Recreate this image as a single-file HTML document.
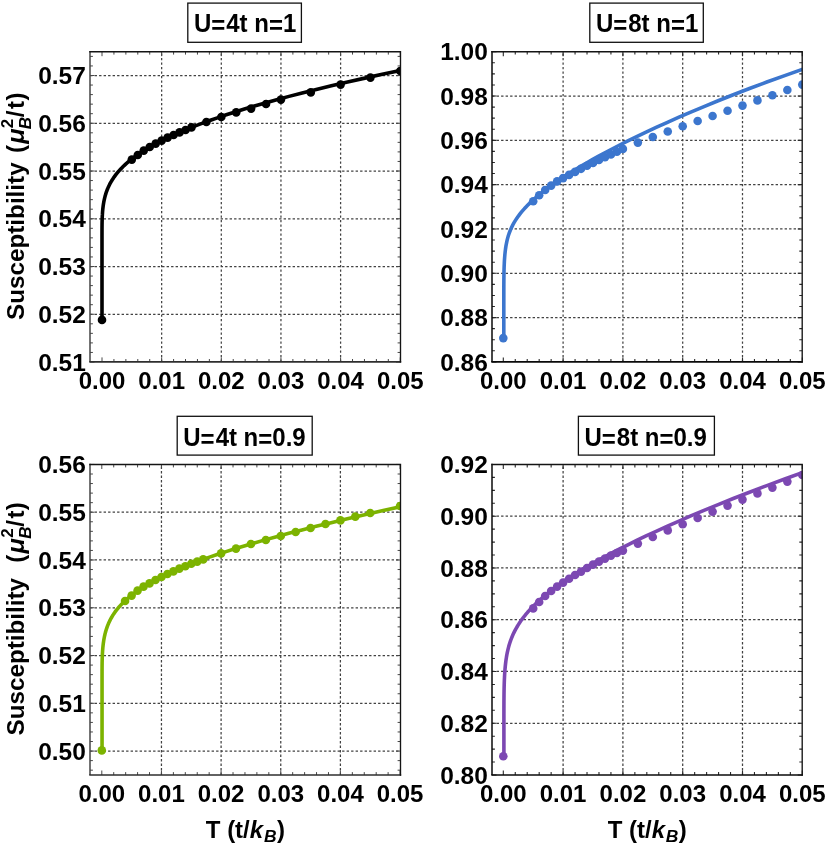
<!DOCTYPE html>
<html><head><meta charset="utf-8"><title>Susceptibility</title>
<style>html,body{margin:0;padding:0;background:#fff;}svg{display:block;position:absolute;left:0;top:0;will-change:transform;}text{font-family:"Liberation Sans",sans-serif;font-weight:bold;fill:#000;}</style></head><body>
<svg width="830" height="852" viewBox="0 0 830 852">
<rect x="0" y="0" width="830" height="852" fill="#fff"/>
<g id="P1">
<clipPath id="clipP1"><rect x="90.0" y="51.7" width="310.5" height="310.2"/></clipPath>
<path d="M161.65 361.90V51.70M221.30 361.90V51.70M280.95 361.90V51.70M340.60 361.90V51.70M90.00 314.25H400.50M90.00 266.50H400.50M90.00 218.75H400.50M90.00 171.00H400.50M90.00 123.25H400.50M90.00 75.50H400.50" fill="none" stroke="#424242" stroke-width="1.25" stroke-dasharray="2.4 2.1" stroke-dashoffset="-0.1"/>
<path d="M113.93 361.90v-2.9M113.93 51.70v2.9M125.86 361.90v-2.9M125.86 51.70v2.9M137.79 361.90v-2.9M137.79 51.70v2.9M149.72 361.90v-2.9M149.72 51.70v2.9M173.58 361.90v-2.9M173.58 51.70v2.9M185.51 361.90v-2.9M185.51 51.70v2.9M197.44 361.90v-2.9M197.44 51.70v2.9M209.37 361.90v-2.9M209.37 51.70v2.9M233.23 361.90v-2.9M233.23 51.70v2.9M245.16 361.90v-2.9M245.16 51.70v2.9M257.09 361.90v-2.9M257.09 51.70v2.9M269.02 361.90v-2.9M269.02 51.70v2.9M292.88 361.90v-2.9M292.88 51.70v2.9M304.81 361.90v-2.9M304.81 51.70v2.9M316.74 361.90v-2.9M316.74 51.70v2.9M328.67 361.90v-2.9M328.67 51.70v2.9M352.53 361.90v-2.9M352.53 51.70v2.9M364.46 361.90v-2.9M364.46 51.70v2.9M376.39 361.90v-2.9M376.39 51.70v2.9M388.32 361.90v-2.9M388.32 51.70v2.9M90.00 352.45h2.9M400.50 352.45h-2.9M90.00 342.90h2.9M400.50 342.90h-2.9M90.00 333.35h2.9M400.50 333.35h-2.9M90.00 323.80h2.9M400.50 323.80h-2.9M90.00 304.70h2.9M400.50 304.70h-2.9M90.00 295.15h2.9M400.50 295.15h-2.9M90.00 285.60h2.9M400.50 285.60h-2.9M90.00 276.05h2.9M400.50 276.05h-2.9M90.00 256.95h2.9M400.50 256.95h-2.9M90.00 247.40h2.9M400.50 247.40h-2.9M90.00 237.85h2.9M400.50 237.85h-2.9M90.00 228.30h2.9M400.50 228.30h-2.9M90.00 209.20h2.9M400.50 209.20h-2.9M90.00 199.65h2.9M400.50 199.65h-2.9M90.00 190.10h2.9M400.50 190.10h-2.9M90.00 180.55h2.9M400.50 180.55h-2.9M90.00 161.45h2.9M400.50 161.45h-2.9M90.00 151.90h2.9M400.50 151.90h-2.9M90.00 142.35h2.9M400.50 142.35h-2.9M90.00 132.80h2.9M400.50 132.80h-2.9M90.00 113.70h2.9M400.50 113.70h-2.9M90.00 104.15h2.9M400.50 104.15h-2.9M90.00 94.60h2.9M400.50 94.60h-2.9M90.00 85.05h2.9M400.50 85.05h-2.9M90.00 65.95h2.9M400.50 65.95h-2.9M90.00 56.40h2.9M400.50 56.40h-2.9" fill="none" stroke="#484848" stroke-width="1.0"/>
<path d="M102.00 361.90v-4.5M102.00 51.70v4.5M161.65 361.90v-4.5M161.65 51.70v4.5M221.30 361.90v-4.5M221.30 51.70v4.5M280.95 361.90v-4.5M280.95 51.70v4.5M340.60 361.90v-4.5M340.60 51.70v4.5M400.25 361.90v-4.5M400.25 51.70v4.5M90.00 362.00h4.5M400.50 362.00h-4.5M90.00 314.25h4.5M400.50 314.25h-4.5M90.00 266.50h4.5M400.50 266.50h-4.5M90.00 218.75h4.5M400.50 218.75h-4.5M90.00 171.00h4.5M400.50 171.00h-4.5M90.00 123.25h4.5M400.50 123.25h-4.5M90.00 75.50h4.5M400.50 75.50h-4.5" fill="none" stroke="#484848" stroke-width="1.0"/>
<g clip-path="url(#clipP1)">
<path d="M102.00 319.90 L102.00 237.01 L102.01 230.26 L102.01 230.12 L102.01 229.98 L102.01 229.84 L102.01 229.69 L102.01 229.55 L102.01 229.39 L102.01 229.24 L102.01 229.08 L102.01 228.92 L102.01 228.76 L102.01 228.59 L102.01 228.42 L102.01 228.25 L102.02 228.07 L102.02 227.89 L102.02 227.71 L102.02 227.52 L102.02 227.33 L102.02 227.14 L102.02 226.94 L102.02 226.74 L102.03 226.53 L102.03 226.32 L102.03 226.11 L102.03 225.89 L102.04 225.66 L102.04 225.44 L102.04 225.21 L102.04 224.97 L102.05 224.73 L102.05 224.48 L102.05 224.23 L102.06 223.98 L102.06 223.72 L102.06 223.45 L102.07 223.18 L102.07 222.91 L102.08 222.63 L102.08 222.34 L102.09 222.05 L102.10 221.75 L102.10 221.45 L102.11 221.14 L102.12 220.83 L102.13 220.51 L102.14 220.18 L102.15 219.85 L102.16 219.51 L102.17 219.16 L102.18 218.81 L102.19 218.45 L102.21 218.08 L102.22 217.71 L102.24 217.33 L102.25 216.94 L102.27 216.55 L102.29 216.15 L102.31 215.74 L102.33 215.32 L102.36 214.89 L102.38 214.46 L102.41 214.02 L102.44 213.57 L102.47 213.11 L102.50 212.64 L102.53 212.16 L102.57 211.68 L102.61 211.19 L102.66 210.68 L102.70 210.17 L102.75 209.65 L102.80 209.11 L102.86 208.57 L102.92 208.02 L102.99 207.46 L103.06 206.88 L103.13 206.30 L103.21 205.70 L103.30 205.09 L103.39 204.47 L103.48 203.84 L103.59 203.20 L103.70 202.55 L103.82 201.88 L103.95 201.20 L104.09 200.51 L104.23 199.80 L104.39 199.08 L104.56 198.35 L104.74 197.60 L104.93 196.84 L105.14 196.07 L105.36 195.27 L105.60 194.47 L105.85 193.64 L106.12 192.81 L106.41 191.95 L106.73 191.08 L107.06 190.19 L107.42 189.28 L107.80 188.36 L108.21 187.41 L108.64 186.45 L109.11 185.47 L109.61 184.46 L110.15 183.44 L110.72 182.40 L111.34 181.33 L112.00 180.24 L112.70 179.13 L113.46 177.99 L114.26 176.83 L115.13 175.65 L116.05 174.43 L117.04 173.20 L118.10 171.93 L119.24 170.63 L120.45 169.31 L121.76 167.96 L123.15 166.57 L124.64 165.15 L126.23 163.70 L127.94 162.22 L129.77 160.69 L131.73 159.13 L133.82 157.54 L136.07 155.90 L138.47 154.22 L141.04 152.50 L143.79 150.73 L146.74 148.92 L149.89 147.06 L153.26 145.15 L156.88 143.19 L160.75 141.18 L164.89 139.11 L169.32 136.98 L174.06 134.79 L179.14 132.54 L184.58 130.23 L190.40 127.85 L196.63 125.39 L203.30 122.87 L210.44 120.27 L218.08 117.59 L226.27 114.83 L235.03 111.99 L244.40 109.05 L254.44 106.03 L265.18 102.91 L276.69 99.70 L289.00 96.38 L302.18 92.95 L316.29 89.42 L331.39 85.77 L347.56 82.01 L364.87 78.12 L383.40 74.11 L403.23 69.97" fill="none" stroke="#000000" stroke-width="3.6" stroke-linejoin="round" stroke-linecap="butt"/>
<circle cx="102.00" cy="319.90" r="4.3" fill="#000000"/>
<circle cx="131.82" cy="159.60" r="4.3" fill="#000000"/>
<circle cx="137.79" cy="155.00" r="4.3" fill="#000000"/>
<circle cx="143.75" cy="150.60" r="4.3" fill="#000000"/>
<circle cx="149.72" cy="147.00" r="4.3" fill="#000000"/>
<circle cx="155.69" cy="143.60" r="4.3" fill="#000000"/>
<circle cx="161.65" cy="140.60" r="4.3" fill="#000000"/>
<circle cx="167.62" cy="137.60" r="4.3" fill="#000000"/>
<circle cx="173.58" cy="135.00" r="4.3" fill="#000000"/>
<circle cx="179.55" cy="132.40" r="4.3" fill="#000000"/>
<circle cx="185.51" cy="130.00" r="4.3" fill="#000000"/>
<circle cx="191.47" cy="127.40" r="4.3" fill="#000000"/>
<circle cx="206.39" cy="122.00" r="4.3" fill="#000000"/>
<circle cx="221.30" cy="117.00" r="4.3" fill="#000000"/>
<circle cx="236.21" cy="112.40" r="4.3" fill="#000000"/>
<circle cx="251.12" cy="108.60" r="4.3" fill="#000000"/>
<circle cx="266.04" cy="104.00" r="4.3" fill="#000000"/>
<circle cx="280.95" cy="99.60" r="4.3" fill="#000000"/>
<circle cx="310.77" cy="92.40" r="4.3" fill="#000000"/>
<circle cx="340.60" cy="84.60" r="4.3" fill="#000000"/>
<circle cx="370.43" cy="77.60" r="4.3" fill="#000000"/>
<circle cx="400.25" cy="71.00" r="4.3" fill="#000000"/>
</g>
<path d="M90.0 51.00V361.90" fill="none" stroke="#444444" stroke-width="1.5"/>
<path d="M89.25 361.90H401.20" fill="none" stroke="#2e2e2e" stroke-width="1.6"/>
<path d="M89.30 51.7H400.50V362.60" fill="none" stroke="#141414" stroke-width="1.35"/>
<text transform="translate(85.80 370.60) scale(1.02 1)" font-size="24" text-anchor="end">0.51</text>
<text transform="translate(85.80 322.85) scale(1.02 1)" font-size="24" text-anchor="end">0.52</text>
<text transform="translate(85.80 275.10) scale(1.02 1)" font-size="24" text-anchor="end">0.53</text>
<text transform="translate(85.80 227.35) scale(1.02 1)" font-size="24" text-anchor="end">0.54</text>
<text transform="translate(85.80 179.60) scale(1.02 1)" font-size="24" text-anchor="end">0.55</text>
<text transform="translate(85.80 131.85) scale(1.02 1)" font-size="24" text-anchor="end">0.56</text>
<text transform="translate(85.80 84.10) scale(1.02 1)" font-size="24" text-anchor="end">0.57</text>
<text x="102.00" y="388.90" font-size="24" text-anchor="middle">0.00</text>
<text x="161.65" y="388.90" font-size="24" text-anchor="middle">0.01</text>
<text x="221.30" y="388.90" font-size="24" text-anchor="middle">0.02</text>
<text x="280.95" y="388.90" font-size="24" text-anchor="middle">0.03</text>
<text x="340.60" y="388.90" font-size="24" text-anchor="middle">0.04</text>
<text x="400.25" y="388.90" font-size="24" text-anchor="middle">0.05</text>
<rect x="187.8" y="3.1" width="113.60" height="39.20" fill="#fff" stroke="#111" stroke-width="1.3"/>
<text transform="translate(193.90 32.40) scale(1 1.04)" font-size="24">U<tspan dy="1.9">=</tspan><tspan dy="-1.9" dx="1">4t n</tspan><tspan dy="1.9">=</tspan><tspan dy="-1.9">1</tspan></text>
<g transform="translate(23.6 206.80) rotate(-90)" font-size="24">
<text transform="translate(-113.10 0.00) scale(1.01 1)" font-size="24">Susceptibility</text>
<text transform="translate(53.80 0.00) scale(1 1)" font-size="24">(</text>
<text transform="translate(63.00 0.00) scale(1.06 1)" font-size="24" font-style="italic">μ</text>
<text transform="translate(78.60 -10.90) scale(1 1)" font-size="17">2</text>
<text transform="translate(77.60 7.30) scale(1 1)" font-size="17" font-style="italic">B</text>
<text transform="translate(89.60 0.00) scale(1 1)" font-size="24">/</text>
<text transform="translate(97.90 0.00) scale(1 1)" font-size="24">t</text>
<text transform="translate(106.30 0.00) scale(1 1)" font-size="24">)</text>
</g>
</g>
<g id="P2">
<clipPath id="clipP2"><rect x="492.0" y="51.7" width="310.20000000000005" height="310.2"/></clipPath>
<path d="M563.10 361.90V51.70M622.90 361.90V51.70M682.70 361.90V51.70M742.50 361.90V51.70M492.00 317.58H802.20M492.00 273.27H802.20M492.00 228.96H802.20M492.00 184.64H802.20M492.00 140.33H802.20M492.00 96.01H802.20" fill="none" stroke="#424242" stroke-width="1.25" stroke-dasharray="2.4 2.1" stroke-dashoffset="-0.1"/>
<path d="M515.26 361.90v-2.9M515.26 51.70v2.9M527.22 361.90v-2.9M527.22 51.70v2.9M539.18 361.90v-2.9M539.18 51.70v2.9M551.14 361.90v-2.9M551.14 51.70v2.9M575.06 361.90v-2.9M575.06 51.70v2.9M587.02 361.90v-2.9M587.02 51.70v2.9M598.98 361.90v-2.9M598.98 51.70v2.9M610.94 361.90v-2.9M610.94 51.70v2.9M634.86 361.90v-2.9M634.86 51.70v2.9M646.82 361.90v-2.9M646.82 51.70v2.9M658.78 361.90v-2.9M658.78 51.70v2.9M670.74 361.90v-2.9M670.74 51.70v2.9M694.66 361.90v-2.9M694.66 51.70v2.9M706.62 361.90v-2.9M706.62 51.70v2.9M718.58 361.90v-2.9M718.58 51.70v2.9M730.54 361.90v-2.9M730.54 51.70v2.9M754.46 361.90v-2.9M754.46 51.70v2.9M766.42 361.90v-2.9M766.42 51.70v2.9M778.38 361.90v-2.9M778.38 51.70v2.9M790.34 361.90v-2.9M790.34 51.70v2.9M492.00 350.82h2.9M802.20 350.82h-2.9M492.00 339.74h2.9M802.20 339.74h-2.9M492.00 328.66h2.9M802.20 328.66h-2.9M492.00 306.51h2.9M802.20 306.51h-2.9M492.00 295.43h2.9M802.20 295.43h-2.9M492.00 284.35h2.9M802.20 284.35h-2.9M492.00 262.19h2.9M802.20 262.19h-2.9M492.00 251.11h2.9M802.20 251.11h-2.9M492.00 240.03h2.9M802.20 240.03h-2.9M492.00 217.88h2.9M802.20 217.88h-2.9M492.00 206.80h2.9M802.20 206.80h-2.9M492.00 195.72h2.9M802.20 195.72h-2.9M492.00 173.56h2.9M802.20 173.56h-2.9M492.00 162.49h2.9M802.20 162.49h-2.9M492.00 151.41h2.9M802.20 151.41h-2.9M492.00 129.25h2.9M802.20 129.25h-2.9M492.00 118.17h2.9M802.20 118.17h-2.9M492.00 107.09h2.9M802.20 107.09h-2.9M492.00 84.94h2.9M802.20 84.94h-2.9M492.00 73.86h2.9M802.20 73.86h-2.9M492.00 62.78h2.9M802.20 62.78h-2.9" fill="none" stroke="#2a2a2a" stroke-width="1.1"/>
<path d="M503.30 361.90v-4.5M503.30 51.70v4.5M563.10 361.90v-4.5M563.10 51.70v4.5M622.90 361.90v-4.5M622.90 51.70v4.5M682.70 361.90v-4.5M682.70 51.70v4.5M742.50 361.90v-4.5M742.50 51.70v4.5M802.30 361.90v-4.5M802.30 51.70v4.5M492.00 361.90h4.5M802.20 361.90h-4.5M492.00 317.58h4.5M802.20 317.58h-4.5M492.00 273.27h4.5M802.20 273.27h-4.5M492.00 228.96h4.5M802.20 228.96h-4.5M492.00 184.64h4.5M802.20 184.64h-4.5M492.00 140.33h4.5M802.20 140.33h-4.5M492.00 96.01h4.5M802.20 96.01h-4.5M492.00 51.70h4.5M802.20 51.70h-4.5" fill="none" stroke="#2a2a2a" stroke-width="1.1"/>
<g clip-path="url(#clipP2)">
<path d="M503.80 338.10 L503.80 306.72 L503.81 293.65 L503.81 293.40 L503.81 293.14 L503.81 292.87 L503.81 292.61 L503.81 292.33 L503.81 292.06 L503.81 291.78 L503.81 291.49 L503.81 291.20 L503.81 290.90 L503.81 290.60 L503.81 290.29 L503.81 289.98 L503.81 289.66 L503.81 289.33 L503.82 289.00 L503.82 288.67 L503.82 288.33 L503.82 287.98 L503.82 287.63 L503.82 287.27 L503.82 286.90 L503.82 286.53 L503.83 286.15 L503.83 285.77 L503.83 285.38 L503.83 284.98 L503.83 284.58 L503.84 284.17 L503.84 283.76 L503.84 283.33 L503.85 282.90 L503.85 282.47 L503.85 282.02 L503.86 281.57 L503.86 281.12 L503.86 280.65 L503.87 280.18 L503.87 279.70 L503.88 279.21 L503.88 278.72 L503.89 278.22 L503.90 277.71 L503.90 277.19 L503.91 276.67 L503.92 276.14 L503.93 275.60 L503.94 275.05 L503.95 274.49 L503.96 273.93 L503.97 273.36 L503.98 272.78 L503.99 272.19 L504.00 271.59 L504.02 270.99 L504.03 270.37 L504.05 269.75 L504.07 269.12 L504.09 268.49 L504.11 267.84 L504.13 267.18 L504.15 266.52 L504.18 265.85 L504.21 265.17 L504.24 264.48 L504.27 263.78 L504.30 263.07 L504.34 262.35 L504.37 261.63 L504.41 260.90 L504.46 260.15 L504.51 259.40 L504.56 258.64 L504.61 257.87 L504.67 257.09 L504.73 256.30 L504.80 255.50 L504.87 254.69 L504.95 253.88 L505.03 253.05 L505.12 252.21 L505.21 251.37 L505.32 250.51 L505.43 249.64 L505.54 248.77 L505.67 247.88 L505.81 246.98 L505.95 246.08 L506.11 245.16 L506.28 244.23 L506.46 243.29 L506.66 242.33 L506.87 241.37 L507.09 240.39 L507.33 239.40 L507.59 238.40 L507.87 237.38 L508.17 236.35 L508.49 235.31 L508.84 234.25 L509.21 233.18 L509.61 232.09 L510.04 230.98 L510.50 229.86 L510.99 228.72 L511.52 227.56 L512.09 226.38 L512.70 225.17 L513.35 223.95 L514.05 222.70 L514.81 221.43 L515.61 220.13 L516.47 218.81 L517.40 217.45 L518.39 216.06 L519.45 214.65 L520.59 213.19 L521.80 211.70 L523.11 210.17 L524.50 208.60 L526.00 206.99 L527.60 205.33 L529.31 203.62 L531.14 201.85 L533.10 200.03 L535.20 198.16 L537.45 196.21 L539.86 194.21 L542.44 192.13 L545.19 189.97 L548.15 187.74 L551.31 185.42 L554.69 183.01 L558.32 180.51 L562.19 177.91 L566.34 175.20 L570.79 172.38 L575.54 169.44 L580.64 166.38 L586.09 163.19 L591.92 159.86 L598.17 156.38 L604.86 152.76 L612.01 148.97 L619.68 145.02 L627.88 140.90 L636.66 136.59 L646.06 132.10 L656.12 127.41 L666.89 122.52 L678.43 117.42 L690.77 112.10 L703.98 106.56 L718.13 100.79 L733.27 94.78 L749.48 88.54 L766.83 82.06 L785.41 75.34 L805.29 68.37" fill="none" stroke="#3c76ce" stroke-width="3.6" stroke-linejoin="round" stroke-linecap="butt"/>
<circle cx="503.30" cy="338.10" r="4.3" fill="#3c76ce"/>
<circle cx="533.20" cy="201.30" r="4.3" fill="#3c76ce"/>
<circle cx="539.18" cy="195.20" r="4.3" fill="#3c76ce"/>
<circle cx="545.16" cy="190.00" r="4.3" fill="#3c76ce"/>
<circle cx="551.14" cy="185.60" r="4.3" fill="#3c76ce"/>
<circle cx="557.12" cy="181.40" r="4.3" fill="#3c76ce"/>
<circle cx="563.10" cy="178.10" r="4.3" fill="#3c76ce"/>
<circle cx="569.08" cy="174.90" r="4.3" fill="#3c76ce"/>
<circle cx="575.06" cy="171.90" r="4.3" fill="#3c76ce"/>
<circle cx="581.04" cy="168.83" r="4.3" fill="#3c76ce"/>
<circle cx="587.02" cy="165.82" r="4.3" fill="#3c76ce"/>
<circle cx="593.00" cy="162.88" r="4.3" fill="#3c76ce"/>
<circle cx="598.98" cy="160.00" r="4.3" fill="#3c76ce"/>
<circle cx="604.96" cy="157.18" r="4.3" fill="#3c76ce"/>
<circle cx="610.94" cy="154.43" r="4.3" fill="#3c76ce"/>
<circle cx="616.92" cy="151.73" r="4.3" fill="#3c76ce"/>
<circle cx="622.90" cy="148.90" r="4.3" fill="#3c76ce"/>
<circle cx="637.85" cy="142.60" r="4.3" fill="#3c76ce"/>
<circle cx="652.80" cy="137.00" r="4.3" fill="#3c76ce"/>
<circle cx="667.75" cy="131.50" r="4.3" fill="#3c76ce"/>
<circle cx="682.70" cy="126.30" r="4.3" fill="#3c76ce"/>
<circle cx="697.65" cy="121.00" r="4.3" fill="#3c76ce"/>
<circle cx="712.60" cy="116.00" r="4.3" fill="#3c76ce"/>
<circle cx="727.55" cy="110.80" r="4.3" fill="#3c76ce"/>
<circle cx="742.50" cy="105.60" r="4.3" fill="#3c76ce"/>
<circle cx="757.45" cy="100.40" r="4.3" fill="#3c76ce"/>
<circle cx="772.40" cy="95.20" r="4.3" fill="#3c76ce"/>
<circle cx="787.35" cy="90.00" r="4.3" fill="#3c76ce"/>
<circle cx="802.30" cy="84.60" r="4.3" fill="#3c76ce"/>
</g>
<path d="M492.0 51.00V361.90" fill="none" stroke="#0a0a0a" stroke-width="1.5"/>
<path d="M491.25 361.90H802.90" fill="none" stroke="#0a0a0a" stroke-width="1.6"/>
<path d="M491.30 51.7H802.20V362.60" fill="none" stroke="#141414" stroke-width="1.35"/>
<text transform="translate(487.80 370.50) scale(1.02 1)" font-size="24" text-anchor="end">0.86</text>
<text transform="translate(487.80 326.18) scale(1.02 1)" font-size="24" text-anchor="end">0.88</text>
<text transform="translate(487.80 281.87) scale(1.02 1)" font-size="24" text-anchor="end">0.90</text>
<text transform="translate(487.80 237.56) scale(1.02 1)" font-size="24" text-anchor="end">0.92</text>
<text transform="translate(487.80 193.24) scale(1.02 1)" font-size="24" text-anchor="end">0.94</text>
<text transform="translate(487.80 148.93) scale(1.02 1)" font-size="24" text-anchor="end">0.96</text>
<text transform="translate(487.80 104.61) scale(1.02 1)" font-size="24" text-anchor="end">0.98</text>
<text transform="translate(487.80 60.30) scale(1.02 1)" font-size="24" text-anchor="end">1.00</text>
<text x="503.30" y="388.90" font-size="24" text-anchor="middle">0.00</text>
<text x="563.10" y="388.90" font-size="24" text-anchor="middle">0.01</text>
<text x="622.90" y="388.90" font-size="24" text-anchor="middle">0.02</text>
<text x="682.70" y="388.90" font-size="24" text-anchor="middle">0.03</text>
<text x="742.50" y="388.90" font-size="24" text-anchor="middle">0.04</text>
<text x="802.30" y="388.90" font-size="24" text-anchor="middle">0.05</text>
<rect x="589.8" y="3.1" width="113.50" height="39.20" fill="#fff" stroke="#111" stroke-width="1.3"/>
<text transform="translate(595.90 32.40) scale(1 1.04)" font-size="24">U<tspan dy="1.9">=</tspan><tspan dy="-1.9" dx="1">8t n</tspan><tspan dy="1.9">=</tspan><tspan dy="-1.9">1</tspan></text>
</g>
<g id="P3">
<clipPath id="clipP3"><rect x="90.0" y="464.5" width="310.5" height="310.5"/></clipPath>
<path d="M161.45 775.00V464.50M221.10 775.00V464.50M280.75 775.00V464.50M340.40 775.00V464.50M90.00 751.07H400.50M90.00 703.30H400.50M90.00 655.53H400.50M90.00 607.76H400.50M90.00 559.99H400.50M90.00 512.22H400.50" fill="none" stroke="#424242" stroke-width="1.25" stroke-dasharray="2.4 2.1" stroke-dashoffset="-0.1"/>
<path d="M113.73 775.00v-2.9M113.73 464.50v2.9M125.66 775.00v-2.9M125.66 464.50v2.9M137.59 775.00v-2.9M137.59 464.50v2.9M149.52 775.00v-2.9M149.52 464.50v2.9M173.38 775.00v-2.9M173.38 464.50v2.9M185.31 775.00v-2.9M185.31 464.50v2.9M197.24 775.00v-2.9M197.24 464.50v2.9M209.17 775.00v-2.9M209.17 464.50v2.9M233.03 775.00v-2.9M233.03 464.50v2.9M244.96 775.00v-2.9M244.96 464.50v2.9M256.89 775.00v-2.9M256.89 464.50v2.9M268.82 775.00v-2.9M268.82 464.50v2.9M292.68 775.00v-2.9M292.68 464.50v2.9M304.61 775.00v-2.9M304.61 464.50v2.9M316.54 775.00v-2.9M316.54 464.50v2.9M328.47 775.00v-2.9M328.47 464.50v2.9M352.33 775.00v-2.9M352.33 464.50v2.9M364.26 775.00v-2.9M364.26 464.50v2.9M376.19 775.00v-2.9M376.19 464.50v2.9M388.12 775.00v-2.9M388.12 464.50v2.9M90.00 770.18h2.9M400.50 770.18h-2.9M90.00 760.62h2.9M400.50 760.62h-2.9M90.00 741.52h2.9M400.50 741.52h-2.9M90.00 731.96h2.9M400.50 731.96h-2.9M90.00 722.41h2.9M400.50 722.41h-2.9M90.00 712.85h2.9M400.50 712.85h-2.9M90.00 693.75h2.9M400.50 693.75h-2.9M90.00 684.19h2.9M400.50 684.19h-2.9M90.00 674.64h2.9M400.50 674.64h-2.9M90.00 665.08h2.9M400.50 665.08h-2.9M90.00 645.98h2.9M400.50 645.98h-2.9M90.00 636.42h2.9M400.50 636.42h-2.9M90.00 626.87h2.9M400.50 626.87h-2.9M90.00 617.31h2.9M400.50 617.31h-2.9M90.00 598.21h2.9M400.50 598.21h-2.9M90.00 588.65h2.9M400.50 588.65h-2.9M90.00 579.10h2.9M400.50 579.10h-2.9M90.00 569.54h2.9M400.50 569.54h-2.9M90.00 550.44h2.9M400.50 550.44h-2.9M90.00 540.88h2.9M400.50 540.88h-2.9M90.00 531.33h2.9M400.50 531.33h-2.9M90.00 521.77h2.9M400.50 521.77h-2.9M90.00 502.67h2.9M400.50 502.67h-2.9M90.00 493.11h2.9M400.50 493.11h-2.9M90.00 483.56h2.9M400.50 483.56h-2.9M90.00 474.00h2.9M400.50 474.00h-2.9" fill="none" stroke="#484848" stroke-width="1.0"/>
<path d="M101.80 775.00v-4.5M101.80 464.50v4.5M161.45 775.00v-4.5M161.45 464.50v4.5M221.10 775.00v-4.5M221.10 464.50v4.5M280.75 775.00v-4.5M280.75 464.50v4.5M340.40 775.00v-4.5M340.40 464.50v4.5M400.05 775.00v-4.5M400.05 464.50v4.5M90.00 751.07h4.5M400.50 751.07h-4.5M90.00 703.30h4.5M400.50 703.30h-4.5M90.00 655.53h4.5M400.50 655.53h-4.5M90.00 607.76h4.5M400.50 607.76h-4.5M90.00 559.99h4.5M400.50 559.99h-4.5M90.00 512.22h4.5M400.50 512.22h-4.5M90.00 464.45h4.5M400.50 464.45h-4.5" fill="none" stroke="#484848" stroke-width="1.0"/>
<g clip-path="url(#clipP3)">
<path d="M102.05 750.10 L102.05 678.42 L102.06 671.19 L102.06 671.04 L102.06 670.89 L102.06 670.74 L102.06 670.58 L102.06 670.42 L102.06 670.26 L102.06 670.09 L102.06 669.92 L102.06 669.75 L102.06 669.58 L102.06 669.40 L102.06 669.21 L102.06 669.03 L102.06 668.84 L102.07 668.64 L102.07 668.44 L102.07 668.24 L102.07 668.03 L102.07 667.82 L102.07 667.61 L102.07 667.39 L102.07 667.17 L102.08 666.94 L102.08 666.71 L102.08 666.47 L102.08 666.23 L102.08 665.98 L102.09 665.73 L102.09 665.47 L102.09 665.21 L102.10 664.95 L102.10 664.68 L102.10 664.40 L102.11 664.12 L102.11 663.83 L102.11 663.53 L102.12 663.24 L102.12 662.93 L102.13 662.62 L102.13 662.30 L102.14 661.98 L102.15 661.65 L102.15 661.31 L102.16 660.97 L102.17 660.62 L102.18 660.26 L102.19 659.90 L102.20 659.53 L102.21 659.15 L102.22 658.77 L102.23 658.38 L102.24 657.98 L102.26 657.57 L102.27 657.16 L102.29 656.73 L102.30 656.30 L102.32 655.86 L102.34 655.41 L102.36 654.96 L102.38 654.49 L102.41 654.02 L102.43 653.53 L102.46 653.04 L102.49 652.54 L102.52 652.03 L102.55 651.51 L102.59 650.98 L102.62 650.44 L102.66 649.89 L102.71 649.32 L102.75 648.75 L102.80 648.17 L102.86 647.58 L102.91 646.97 L102.98 646.36 L103.04 645.73 L103.11 645.09 L103.19 644.44 L103.27 643.77 L103.36 643.10 L103.45 642.41 L103.55 641.71 L103.66 640.99 L103.77 640.27 L103.89 639.53 L104.03 638.77 L104.17 638.00 L104.32 637.22 L104.48 636.42 L104.66 635.61 L104.84 634.78 L105.04 633.94 L105.26 633.08 L105.49 632.21 L105.74 631.32 L106.00 630.42 L106.29 629.49 L106.59 628.55 L106.92 627.60 L107.27 626.62 L107.65 625.63 L108.05 624.62 L108.48 623.59 L108.95 622.54 L109.44 621.47 L109.98 620.38 L110.55 619.27 L111.16 618.14 L111.81 616.99 L112.51 615.82 L113.27 614.62 L114.07 613.40 L114.93 612.16 L115.86 610.89 L116.85 609.60 L117.91 608.29 L119.04 606.95 L120.26 605.58 L121.56 604.18 L122.95 602.76 L124.44 601.31 L126.03 599.83 L127.74 598.31 L129.57 596.77 L131.53 595.19 L133.62 593.58 L135.87 591.93 L138.27 590.25 L140.84 588.53 L143.59 586.77 L146.54 584.96 L149.69 583.12 L153.06 581.23 L156.68 579.30 L160.55 577.32 L164.69 575.29 L169.12 573.20 L173.86 571.06 L178.94 568.86 L184.38 566.60 L190.20 564.28 L196.43 561.89 L203.10 559.43 L210.24 556.90 L217.88 554.28 L226.07 551.59 L234.83 548.80 L244.20 545.92 L254.24 542.94 L264.98 539.86 L276.49 536.67 L288.80 533.36 L301.98 529.92 L316.09 526.34 L331.19 522.63 L347.36 518.76 L364.67 514.72 L383.20 510.51 L403.03 506.12" fill="none" stroke="#7cb300" stroke-width="3.6" stroke-linejoin="round" stroke-linecap="butt"/>
<circle cx="101.80" cy="750.40" r="4.3" fill="#7cb300"/>
<circle cx="125.06" cy="601.00" r="4.3" fill="#7cb300"/>
<circle cx="131.62" cy="595.60" r="4.3" fill="#7cb300"/>
<circle cx="137.59" cy="590.60" r="4.3" fill="#7cb300"/>
<circle cx="143.56" cy="586.60" r="4.3" fill="#7cb300"/>
<circle cx="149.52" cy="583.40" r="4.3" fill="#7cb300"/>
<circle cx="155.48" cy="580.00" r="4.3" fill="#7cb300"/>
<circle cx="161.45" cy="577.00" r="4.3" fill="#7cb300"/>
<circle cx="167.41" cy="574.00" r="4.3" fill="#7cb300"/>
<circle cx="173.38" cy="571.40" r="4.3" fill="#7cb300"/>
<circle cx="179.34" cy="568.60" r="4.3" fill="#7cb300"/>
<circle cx="185.31" cy="566.20" r="4.3" fill="#7cb300"/>
<circle cx="191.27" cy="563.80" r="4.3" fill="#7cb300"/>
<circle cx="197.24" cy="561.60" r="4.3" fill="#7cb300"/>
<circle cx="203.20" cy="559.40" r="4.3" fill="#7cb300"/>
<circle cx="221.10" cy="553.40" r="4.3" fill="#7cb300"/>
<circle cx="236.01" cy="548.60" r="4.3" fill="#7cb300"/>
<circle cx="250.93" cy="544.00" r="4.3" fill="#7cb300"/>
<circle cx="265.84" cy="540.00" r="4.3" fill="#7cb300"/>
<circle cx="280.75" cy="536.00" r="4.3" fill="#7cb300"/>
<circle cx="295.66" cy="532.00" r="4.3" fill="#7cb300"/>
<circle cx="310.57" cy="528.00" r="4.3" fill="#7cb300"/>
<circle cx="325.49" cy="524.00" r="4.3" fill="#7cb300"/>
<circle cx="340.40" cy="520.40" r="4.3" fill="#7cb300"/>
<circle cx="355.31" cy="516.60" r="4.3" fill="#7cb300"/>
<circle cx="370.23" cy="513.00" r="4.3" fill="#7cb300"/>
<circle cx="400.05" cy="506.00" r="4.3" fill="#7cb300"/>
</g>
<path d="M90.0 463.80V775.00" fill="none" stroke="#444444" stroke-width="1.5"/>
<path d="M89.25 775.00H401.20" fill="none" stroke="#2e2e2e" stroke-width="1.6"/>
<path d="M89.30 464.5H400.50V775.70" fill="none" stroke="#141414" stroke-width="1.35"/>
<text transform="translate(85.80 759.67) scale(1.02 1)" font-size="24" text-anchor="end">0.50</text>
<text transform="translate(85.80 711.90) scale(1.02 1)" font-size="24" text-anchor="end">0.51</text>
<text transform="translate(85.80 664.13) scale(1.02 1)" font-size="24" text-anchor="end">0.52</text>
<text transform="translate(85.80 616.36) scale(1.02 1)" font-size="24" text-anchor="end">0.53</text>
<text transform="translate(85.80 568.59) scale(1.02 1)" font-size="24" text-anchor="end">0.54</text>
<text transform="translate(85.80 520.82) scale(1.02 1)" font-size="24" text-anchor="end">0.55</text>
<text transform="translate(85.80 473.05) scale(1.02 1)" font-size="24" text-anchor="end">0.56</text>
<text x="101.80" y="802.00" font-size="24" text-anchor="middle">0.00</text>
<text x="161.45" y="802.00" font-size="24" text-anchor="middle">0.01</text>
<text x="221.10" y="802.00" font-size="24" text-anchor="middle">0.02</text>
<text x="280.75" y="802.00" font-size="24" text-anchor="middle">0.03</text>
<text x="340.40" y="802.00" font-size="24" text-anchor="middle">0.04</text>
<text x="400.05" y="802.00" font-size="24" text-anchor="middle">0.05</text>
<rect x="177.2" y="416.3" width="135.00" height="38.80" fill="#fff" stroke="#111" stroke-width="1.3"/>
<text transform="translate(183.30 445.60) scale(1 1.04)" font-size="24">U<tspan dy="1.9">=</tspan><tspan dy="-1.9" dx="1">4t n</tspan><tspan dy="1.9">=</tspan><tspan dy="-1.9">0.9</tspan></text>
<text x="205.80" y="837.6" font-size="24">T (t/<tspan font-style="italic">k</tspan></text>
<text transform="translate(263.90 841.9) scale(1.12 1)" font-size="15.6" font-style="italic">B</text>
<text x="276.90" y="837.6" font-size="24">)</text>
<g transform="translate(23.6 619.75) rotate(-90)" font-size="24">
<text transform="translate(-115.70 0.00) scale(1.01 1)" font-size="24">Susceptibility</text>
<text transform="translate(57.10 0.00) scale(1 1)" font-size="24">(</text>
<text transform="translate(66.30 0.00) scale(1.06 1)" font-size="24" font-style="italic">μ</text>
<text transform="translate(81.90 -10.90) scale(1 1)" font-size="17">2</text>
<text transform="translate(80.90 7.30) scale(1 1)" font-size="17" font-style="italic">B</text>
<text transform="translate(92.90 0.00) scale(1 1)" font-size="24">/</text>
<text transform="translate(101.20 0.00) scale(1 1)" font-size="24">t</text>
<text transform="translate(109.60 0.00) scale(1 1)" font-size="24">)</text>
</g>
</g>
<g id="P4">
<clipPath id="clipP4"><rect x="492.0" y="464.5" width="310.20000000000005" height="310.5"/></clipPath>
<path d="M563.10 775.00V464.50M622.90 775.00V464.50M682.70 775.00V464.50M742.50 775.00V464.50M492.00 723.25H802.20M492.00 671.49H802.20M492.00 619.73H802.20M492.00 567.97H802.20M492.00 516.21H802.20" fill="none" stroke="#424242" stroke-width="1.25" stroke-dasharray="2.4 2.1" stroke-dashoffset="-0.1"/>
<path d="M515.26 775.00v-2.9M515.26 464.50v2.9M527.22 775.00v-2.9M527.22 464.50v2.9M539.18 775.00v-2.9M539.18 464.50v2.9M551.14 775.00v-2.9M551.14 464.50v2.9M575.06 775.00v-2.9M575.06 464.50v2.9M587.02 775.00v-2.9M587.02 464.50v2.9M598.98 775.00v-2.9M598.98 464.50v2.9M610.94 775.00v-2.9M610.94 464.50v2.9M634.86 775.00v-2.9M634.86 464.50v2.9M646.82 775.00v-2.9M646.82 464.50v2.9M658.78 775.00v-2.9M658.78 464.50v2.9M670.74 775.00v-2.9M670.74 464.50v2.9M694.66 775.00v-2.9M694.66 464.50v2.9M706.62 775.00v-2.9M706.62 464.50v2.9M718.58 775.00v-2.9M718.58 464.50v2.9M730.54 775.00v-2.9M730.54 464.50v2.9M754.46 775.00v-2.9M754.46 464.50v2.9M766.42 775.00v-2.9M766.42 464.50v2.9M778.38 775.00v-2.9M778.38 464.50v2.9M790.34 775.00v-2.9M790.34 464.50v2.9M492.00 762.07h2.9M802.20 762.07h-2.9M492.00 749.13h2.9M802.20 749.13h-2.9M492.00 736.19h2.9M802.20 736.19h-2.9M492.00 710.31h2.9M802.20 710.31h-2.9M492.00 697.37h2.9M802.20 697.37h-2.9M492.00 684.43h2.9M802.20 684.43h-2.9M492.00 658.55h2.9M802.20 658.55h-2.9M492.00 645.61h2.9M802.20 645.61h-2.9M492.00 632.67h2.9M802.20 632.67h-2.9M492.00 606.79h2.9M802.20 606.79h-2.9M492.00 593.85h2.9M802.20 593.85h-2.9M492.00 580.91h2.9M802.20 580.91h-2.9M492.00 555.03h2.9M802.20 555.03h-2.9M492.00 542.09h2.9M802.20 542.09h-2.9M492.00 529.15h2.9M802.20 529.15h-2.9M492.00 503.27h2.9M802.20 503.27h-2.9M492.00 490.33h2.9M802.20 490.33h-2.9M492.00 477.39h2.9M802.20 477.39h-2.9" fill="none" stroke="#2a2a2a" stroke-width="1.1"/>
<path d="M503.30 775.00v-4.5M503.30 464.50v4.5M563.10 775.00v-4.5M563.10 464.50v4.5M622.90 775.00v-4.5M622.90 464.50v4.5M682.70 775.00v-4.5M682.70 464.50v4.5M742.50 775.00v-4.5M742.50 464.50v4.5M802.30 775.00v-4.5M802.30 464.50v4.5M492.00 775.01h4.5M802.20 775.01h-4.5M492.00 723.25h4.5M802.20 723.25h-4.5M492.00 671.49h4.5M802.20 671.49h-4.5M492.00 619.73h4.5M802.20 619.73h-4.5M492.00 567.97h4.5M802.20 567.97h-4.5M492.00 516.21h4.5M802.20 516.21h-4.5M492.00 464.45h4.5M802.20 464.45h-4.5" fill="none" stroke="#2a2a2a" stroke-width="1.1"/>
<g clip-path="url(#clipP4)">
<path d="M503.90 756.20 L503.90 726.60 L503.90 713.06 L503.91 712.79 L503.91 712.52 L503.91 712.24 L503.91 711.96 L503.91 711.67 L503.91 711.38 L503.91 711.08 L503.91 710.78 L503.91 710.47 L503.91 710.16 L503.91 709.84 L503.91 709.51 L503.91 709.18 L503.91 708.84 L503.91 708.50 L503.91 708.15 L503.92 707.79 L503.92 707.43 L503.92 707.06 L503.92 706.68 L503.92 706.30 L503.92 705.91 L503.92 705.52 L503.93 705.11 L503.93 704.70 L503.93 704.29 L503.93 703.86 L503.93 703.43 L503.94 702.99 L503.94 702.54 L503.94 702.09 L503.94 701.63 L503.95 701.15 L503.95 700.68 L503.95 700.19 L503.96 699.69 L503.96 699.19 L503.97 698.68 L503.97 698.16 L503.98 697.63 L503.98 697.09 L503.99 696.55 L503.99 695.99 L504.00 695.43 L504.01 694.86 L504.01 694.27 L504.02 693.68 L504.03 693.08 L504.04 692.47 L504.05 691.85 L504.06 691.22 L504.07 690.58 L504.09 689.93 L504.10 689.27 L504.11 688.60 L504.13 687.92 L504.14 687.22 L504.16 686.52 L504.18 685.81 L504.20 685.09 L504.22 684.35 L504.24 683.61 L504.27 682.85 L504.29 682.09 L504.32 681.31 L504.35 680.52 L504.38 679.72 L504.42 678.91 L504.46 678.08 L504.50 677.25 L504.54 676.40 L504.59 675.54 L504.63 674.67 L504.69 673.79 L504.74 672.89 L504.81 671.99 L504.87 671.07 L504.94 670.13 L505.02 669.19 L505.10 668.23 L505.18 667.26 L505.28 666.27 L505.38 665.28 L505.49 664.26 L505.60 663.24 L505.73 662.20 L505.86 661.15 L506.01 660.08 L506.16 659.00 L506.33 657.90 L506.51 656.79 L506.70 655.67 L506.90 654.53 L507.13 653.37 L507.37 652.20 L507.62 651.01 L507.90 649.80 L508.20 648.58 L508.52 647.34 L508.86 646.08 L509.23 644.80 L509.63 643.51 L510.05 642.19 L510.51 640.86 L511.00 639.50 L511.53 638.12 L512.10 636.72 L512.71 635.30 L513.36 633.85 L514.06 632.38 L514.81 630.88 L515.61 629.36 L516.48 627.80 L517.40 626.22 L518.39 624.61 L519.45 622.96 L520.59 621.28 L521.80 619.56 L523.11 617.81 L524.50 616.02 L526.00 614.18 L527.60 612.30 L529.31 610.38 L531.14 608.40 L533.10 606.38 L535.20 604.30 L537.45 602.16 L539.86 599.96 L542.44 597.70 L545.19 595.37 L548.15 592.97 L551.31 590.49 L554.69 587.93 L558.32 585.28 L562.19 582.55 L566.34 579.72 L570.79 576.79 L575.54 573.75 L580.64 570.60 L586.09 567.33 L591.92 563.93 L598.17 560.40 L604.86 556.73 L612.01 552.91 L619.68 548.93 L627.88 544.79 L636.66 540.47 L646.06 535.97 L656.12 531.28 L666.89 526.39 L678.43 521.29 L690.77 515.96 L703.98 510.40 L718.13 504.59 L733.27 498.53 L749.48 492.20 L766.83 485.60 L785.41 478.71 L805.29 471.52" fill="none" stroke="#7c48b2" stroke-width="3.6" stroke-linejoin="round" stroke-linecap="butt"/>
<circle cx="503.30" cy="756.20" r="4.3" fill="#7c48b2"/>
<circle cx="533.20" cy="608.40" r="4.3" fill="#7c48b2"/>
<circle cx="539.18" cy="602.00" r="4.3" fill="#7c48b2"/>
<circle cx="545.16" cy="596.00" r="4.3" fill="#7c48b2"/>
<circle cx="551.14" cy="591.00" r="4.3" fill="#7c48b2"/>
<circle cx="557.12" cy="586.60" r="4.3" fill="#7c48b2"/>
<circle cx="563.10" cy="582.60" r="4.3" fill="#7c48b2"/>
<circle cx="569.08" cy="578.80" r="4.3" fill="#7c48b2"/>
<circle cx="575.06" cy="575.00" r="4.3" fill="#7c48b2"/>
<circle cx="581.04" cy="571.60" r="4.3" fill="#7c48b2"/>
<circle cx="587.02" cy="568.00" r="4.3" fill="#7c48b2"/>
<circle cx="593.00" cy="564.60" r="4.3" fill="#7c48b2"/>
<circle cx="598.98" cy="561.60" r="4.3" fill="#7c48b2"/>
<circle cx="604.96" cy="558.60" r="4.3" fill="#7c48b2"/>
<circle cx="610.94" cy="555.60" r="4.3" fill="#7c48b2"/>
<circle cx="616.92" cy="553.00" r="4.3" fill="#7c48b2"/>
<circle cx="622.90" cy="550.60" r="4.3" fill="#7c48b2"/>
<circle cx="637.85" cy="543.60" r="4.3" fill="#7c48b2"/>
<circle cx="652.80" cy="537.00" r="4.3" fill="#7c48b2"/>
<circle cx="667.75" cy="530.40" r="4.3" fill="#7c48b2"/>
<circle cx="682.70" cy="524.20" r="4.3" fill="#7c48b2"/>
<circle cx="697.65" cy="518.00" r="4.3" fill="#7c48b2"/>
<circle cx="712.60" cy="511.60" r="4.3" fill="#7c48b2"/>
<circle cx="727.55" cy="505.60" r="4.3" fill="#7c48b2"/>
<circle cx="742.50" cy="499.60" r="4.3" fill="#7c48b2"/>
<circle cx="757.45" cy="493.40" r="4.3" fill="#7c48b2"/>
<circle cx="772.40" cy="487.60" r="4.3" fill="#7c48b2"/>
<circle cx="787.35" cy="481.60" r="4.3" fill="#7c48b2"/>
<circle cx="802.30" cy="475.00" r="4.3" fill="#7c48b2"/>
</g>
<path d="M492.0 463.80V775.00" fill="none" stroke="#0a0a0a" stroke-width="1.5"/>
<path d="M491.25 775.00H802.90" fill="none" stroke="#0a0a0a" stroke-width="1.6"/>
<path d="M491.30 464.5H802.20V775.70" fill="none" stroke="#141414" stroke-width="1.35"/>
<text transform="translate(487.80 783.61) scale(1.02 1)" font-size="24" text-anchor="end">0.80</text>
<text transform="translate(487.80 731.85) scale(1.02 1)" font-size="24" text-anchor="end">0.82</text>
<text transform="translate(487.80 680.09) scale(1.02 1)" font-size="24" text-anchor="end">0.84</text>
<text transform="translate(487.80 628.33) scale(1.02 1)" font-size="24" text-anchor="end">0.86</text>
<text transform="translate(487.80 576.57) scale(1.02 1)" font-size="24" text-anchor="end">0.88</text>
<text transform="translate(487.80 524.81) scale(1.02 1)" font-size="24" text-anchor="end">0.90</text>
<text transform="translate(487.80 473.05) scale(1.02 1)" font-size="24" text-anchor="end">0.92</text>
<text x="503.30" y="802.00" font-size="24" text-anchor="middle">0.00</text>
<text x="563.10" y="802.00" font-size="24" text-anchor="middle">0.01</text>
<text x="622.90" y="802.00" font-size="24" text-anchor="middle">0.02</text>
<text x="682.70" y="802.00" font-size="24" text-anchor="middle">0.03</text>
<text x="742.50" y="802.00" font-size="24" text-anchor="middle">0.04</text>
<text x="802.30" y="802.00" font-size="24" text-anchor="middle">0.05</text>
<rect x="578.4" y="416.3" width="136.00" height="38.80" fill="#fff" stroke="#111" stroke-width="1.3"/>
<text transform="translate(584.50 445.60) scale(1 1.04)" font-size="24">U<tspan dy="1.9">=</tspan><tspan dy="-1.9" dx="1">8t n</tspan><tspan dy="1.9">=</tspan><tspan dy="-1.9">0.9</tspan></text>
<text x="607.65" y="837.6" font-size="24">T (t/<tspan font-style="italic">k</tspan></text>
<text transform="translate(665.75 841.9) scale(1.12 1)" font-size="15.6" font-style="italic">B</text>
<text x="678.75" y="837.6" font-size="24">)</text>
</g>
</svg></body></html>
